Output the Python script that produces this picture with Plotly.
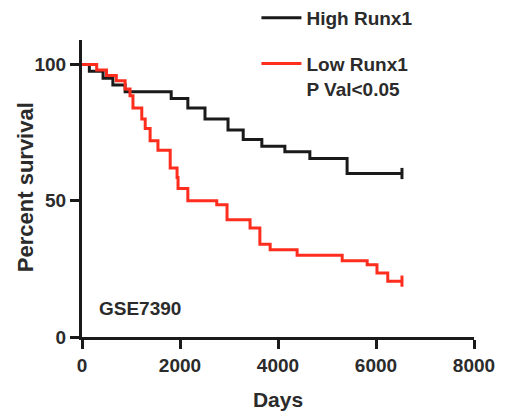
import plotly.graph_objects as go

# Kaplan-Meier step data (days, percent survival)
high_days = [0, 150, 430, 630, 880, 1820, 2160, 2510, 2980, 3290, 3670, 4140, 4650, 5410, 6530]
high_surv = [100, 97.5, 95, 92.5, 90, 87.5, 84, 80, 76, 72.5, 70, 68, 65.5, 60, 60]

low_days = [0, 300, 500, 700, 880, 980, 1040, 1220, 1290, 1390, 1550, 1800, 1940, 1960, 2160,
            2750, 2960, 3430, 3630, 3840, 4390, 5310, 5820, 6020, 6240, 6530]
low_surv = [100, 98, 96, 94, 91, 88.5, 84, 80, 76.5, 72, 68.5, 62, 58.5, 54.5, 50,
            48.5, 43, 40, 34, 32, 30, 28, 26.5, 23.5, 20.5, 20.5]

x_ticks = [0, 2000, 4000, 6000, 8000]
y_ticks = [0, 50, 100]

TXT = "#2b2b2b"
FONT = "Liberation Sans"

fig = go.Figure()
fig.add_trace(go.Scatter(
    x=high_days, y=high_surv, mode="lines", line=dict(color="#1a1a1a", width=3, shape="hv"),
    name="High Runx1", legendgroup="a"))
fig.add_trace(go.Scatter(
    x=low_days, y=low_surv, mode="lines", line=dict(color="#ff2d1e", width=3, shape="hv"),
    name="Low Runx1<br>P Val<0.05", legendgroup="b"))
# censor ticks at the end of each curve
fig.add_trace(go.Scatter(
    x=[high_days[-1]], y=[high_surv[-1]], mode="markers", showlegend=False,
    marker=dict(symbol="line-ns", size=8, line=dict(color="#1a1a1a", width=3))))
fig.add_trace(go.Scatter(
    x=[low_days[-1]], y=[low_surv[-1]], mode="markers", showlegend=False,
    marker=dict(symbol="line-ns", size=8, line=dict(color="#ff2d1e", width=3))))

fig.add_annotation(x=300, y=10.3, xref="x", yref="y", text="GSE7390", showarrow=False,
                   xanchor="left", yanchor="middle",
                   font=dict(family=FONT, size=19, color=TXT, weight="bold"))
# y-axis title placed as a rotated annotation for precise positioning
fig.add_annotation(x=-0.145, y=0.505, xref="paper", yref="paper", text="Percent survival",
                   showarrow=False, textangle=-90, xanchor="center", yanchor="middle",
                   font=dict(family=FONT, size=22, color=TXT, weight="bold"))

fig.update_layout(
    width=510, height=419,
    margin=dict(l=74, r=44, t=32, b=90, autoexpand=False),
    paper_bgcolor="white", plot_bgcolor="white",
    font=dict(family=FONT, color=TXT, weight="bold"),
    legend=dict(x=0.445, y=1.138, xanchor="left", yanchor="top",
                font=dict(family=FONT, size=19, color=TXT, weight="bold"),
                tracegroupgap=18, itemwidth=40, traceorder="grouped",
                bgcolor="rgba(0,0,0,0)", valign="top"),
    xaxis=dict(range=[0, 8000], tickvals=x_ticks, ticks="outside", ticklen=9, tickwidth=3,
               showline=True, linewidth=3, linecolor="#1a1a1a", tickcolor="#1a1a1a",
               showgrid=False, zeroline=False, automargin=False,
               tickfont=dict(family=FONT, size=19, color=TXT, weight="bold"),
               title=dict(text="Days", font=dict(family=FONT, size=21, color=TXT, weight="bold"),
                          standoff=18)),
    yaxis=dict(range=[0, 109], tickvals=y_ticks, ticks="outside", ticklen=9, tickwidth=3,
               showline=True, linewidth=3, linecolor="#1a1a1a", tickcolor="#1a1a1a",
               showgrid=False, zeroline=False, automargin=False,
               tickfont=dict(family=FONT, size=19, color=TXT, weight="bold")),
)

fig.write_html("out.html")
